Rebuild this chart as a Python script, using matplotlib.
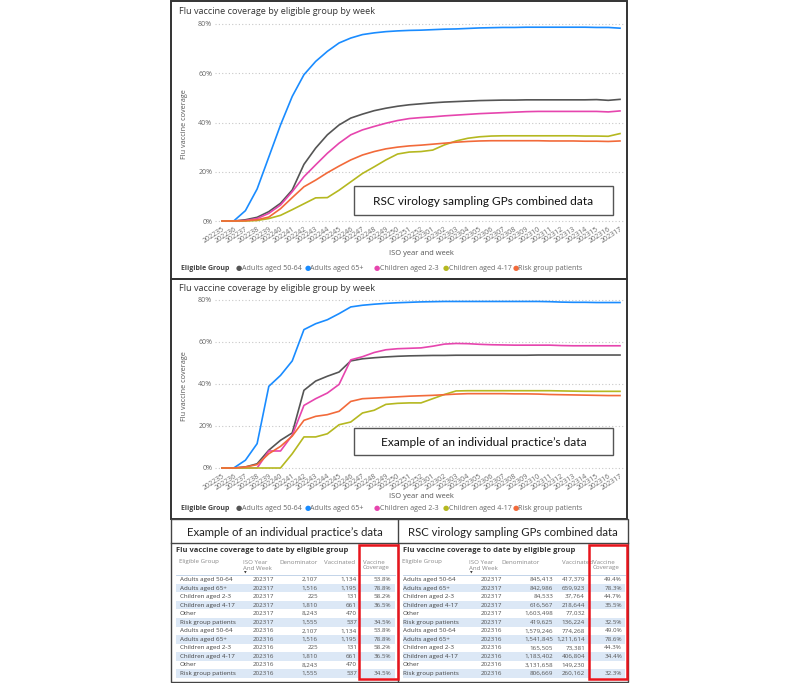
import matplotlib
matplotlib.use("Agg")
import matplotlib.pyplot as plt
from matplotlib.patches import Rectangle

plt.rcParams['font.family'] = ['Open Sans', 'DejaVu Sans']

# ISO year-week labels on the x axis
weeks = ["202235", "202236", "202237", "202238", "202239", "202240", "202241",
         "202242", "202243", "202244", "202245", "202246", "202247", "202248",
         "202249", "202250", "202251", "202252", "202301", "202302", "202303",
         "202304", "202305", "202306", "202307", "202308", "202309", "202310",
         "202311", "202312", "202313", "202314", "202315", "202316", "202317"]

groups = ["Adults aged 50-64", "Adults aged 65+", "Children aged 2-3",
          "Children aged 4-17", "Risk group patients"]
colors = ["#555555", "#1a8cff", "#e645ae", "#b5b820", "#f26a3a"]

# RSC virology sampling GPs combined data (coverage %)
comb_50_64 = [0, 0, 0.5, 1.5, 3.8, 7.2, 12.6, 23.0, 29.6, 35.0, 39.0, 41.8, 43.4, 44.8, 45.8, 46.6, 47.2, 47.6,
              48.0, 48.3, 48.5, 48.7, 48.9, 49.0, 49.1, 49.1, 49.2, 49.2, 49.2, 49.2, 49.2, 49.2, 49.3, 49.0, 49.4]
comb_65 = [0, 0, 4.2, 13.0, 26.0, 39.0, 50.6, 59.4, 64.8, 68.9, 72.3, 74.3, 75.7, 76.4, 76.9, 77.2, 77.4, 77.5,
           77.7, 77.9, 78.0, 78.2, 78.4, 78.5, 78.6, 78.6, 78.7, 78.7, 78.7, 78.7, 78.7, 78.7, 78.6, 78.6, 78.3]
comb_2_3 = [0, 0, 0.2, 1.0, 3.1, 6.5, 11.9, 18.0, 22.8, 27.5, 31.6, 35.0, 37.0, 38.4, 39.7, 40.8, 41.6, 42.0,
            42.3, 42.7, 43.0, 43.3, 43.6, 43.8, 44.0, 44.2, 44.4, 44.5, 44.5, 44.5, 44.5, 44.5, 44.5, 44.3, 44.7]
comb_4_17 = [0, 0, 0, 0.2, 1.0, 2.3, 4.6, 7.0, 9.4, 9.5, 12.5, 15.9, 19.3, 22.0, 24.8, 27.2, 28.0, 28.2,
             28.8, 30.9, 32.5, 33.6, 34.2, 34.5, 34.6, 34.6, 34.6, 34.6, 34.6, 34.6, 34.6, 34.5, 34.5, 34.4, 35.5]
comb_risk = [0, 0, 0.1, 0.5, 1.6, 5.0, 9.5, 13.9, 16.6, 19.6, 22.3, 24.8, 26.8, 28.2, 29.3, 30.0, 30.5, 30.8,
             31.2, 31.6, 32.0, 32.3, 32.5, 32.6, 32.6, 32.6, 32.6, 32.6, 32.5, 32.5, 32.5, 32.4, 32.4, 32.3, 32.5]

# Example of an individual practice's data (coverage %)
prac_50_64 = [0, 0, 0.5, 2.0, 8.5, 13.2, 16.7, 37.0, 41.4, 43.7, 45.7, 51.0, 52.0, 52.5, 52.9, 53.2, 53.4, 53.5,
              53.6, 53.6, 53.7, 53.7, 53.7, 53.7, 53.7, 53.7, 53.7, 53.8, 53.8, 53.8, 53.8, 53.8, 53.8, 53.8, 53.8]
prac_65 = [0, 0, 3.7, 11.6, 38.9, 44.1, 51.0, 65.9, 68.7, 70.6, 73.5, 76.7, 77.5, 78.0, 78.4, 78.7, 78.9, 79.1,
           79.2, 79.3, 79.3, 79.3, 79.3, 79.3, 79.3, 79.3, 79.3, 79.3, 79.2, 79.0, 78.9, 78.9, 78.8, 78.8, 78.8]
prac_2_3 = [0, 0, 0, 0, 8.1, 8.1, 15.6, 29.8, 33.0, 35.7, 39.8, 51.5, 53.0, 55.0, 56.3, 56.8, 57.0, 57.2,
            58.0, 59.0, 59.3, 59.2, 58.9, 58.7, 58.6, 58.5, 58.5, 58.5, 58.5, 58.3, 58.2, 58.2, 58.2, 58.2, 58.2]
prac_4_17 = [0, 0, 0, 0, 0, 0, 6.8, 14.8, 14.8, 16.3, 20.6, 21.9, 26.2, 27.5, 30.3, 30.8, 31.0, 31.0,
             33.0, 35.0, 36.7, 36.8, 36.8, 36.8, 36.8, 36.8, 36.8, 36.8, 36.8, 36.7, 36.6, 36.5, 36.5, 36.5, 36.5]
prac_risk = [0, 0, 0.5, 1.6, 6.8, 10.3, 15.2, 22.7, 24.6, 25.4, 27.0, 31.7, 33.0, 33.3, 33.6, 33.9, 34.2, 34.4,
             34.6, 34.9, 35.2, 35.4, 35.4, 35.4, 35.4, 35.3, 35.3, 35.2, 35.0, 34.9, 34.8, 34.7, 34.6, 34.5, 34.5]

# table data
tbl_groups = ["Adults aged 50-64", "Adults aged 65+", "Children aged 2-3", "Children aged 4-17",
              "Other", "Risk group patients"] * 2
tbl_weeks = ["202317"] * 6 + ["202316"] * 6
prac_denom = ["2,107", "1,516", "225", "1,810", "8,243", "1,555",
              "2,107", "1,516", "225", "1,810", "8,243", "1,555"]
prac_vacc = ["1,134", "1,195", "131", "661", "470", "537",
             "1,134", "1,195", "131", "661", "470", "537"]
prac_cov = ["53.8%", "78.8%", "58.2%", "36.5%", "", "34.5%",
            "53.8%", "78.8%", "58.2%", "36.5%", "", "34.5%"]
comb_denom = ["845,413", "842,986", "84,533", "616,567", "1,603,498", "419,625",
              "1,579,246", "1,541,845", "165,505", "1,183,402", "3,131,658", "806,669"]
comb_vacc = ["417,379", "659,923", "37,764", "218,644", "77,032", "136,224",
             "774,268", "1,211,614", "73,381", "406,804", "149,230", "260,162"]
comb_cov = ["49.4%", "78.3%", "44.7%", "35.5%", "", "32.5%",
            "49.0%", "78.6%", "44.3%", "34.4%", "", "32.3%"]

W, H = 800, 683
fig = plt.figure(figsize=(8, 6.83), dpi=100)
fig.patch.set_facecolor("white")


def px(x, y):
    return x / W, 1 - y / H


def ftext(x, y, s, **kw):
    fig.text(x / W, 1 - y / H, s, **kw)


def frame(x0, y0, x1, y1, lw=1.4, ec="#333333", fc="none", z=1):
    fig.add_artist(Rectangle(px(x0, y1), (x1 - x0) / W, (y1 - y0) / H, transform=fig.transFigure,
                             lw=lw, ec=ec, fc=fc, zorder=z))


def hline(x0, x1, y, **kw):
    fig.add_artist(plt.Line2D([x0 / W, x1 / W], [1 - y / H, 1 - y / H], transform=fig.transFigure, **kw))


def vline(x, y0, y1, **kw):
    fig.add_artist(plt.Line2D([x / W, x / W], [1 - y0 / H, 1 - y1 / H], transform=fig.transFigure, **kw))


def chart(series, top, y0pix, y80pix, lab_y, leg_y, note, note_box):
    left, right = 215, 624
    x_first, x_last = 222, 620
    unit = (x_last - x_first) / (len(weeks) - 1)
    ax_top, ax_bot = y80pix - 4, y0pix + 3
    ax = fig.add_axes([left / W, 1 - ax_bot / H, (right - left) / W, (ax_bot - ax_top) / H])
    ax.set_facecolor("none")
    x = list(range(len(weeks)))
    for vals, c in zip(series, colors):
        ax.plot(x, vals, color=c, lw=1.2, solid_joinstyle="round", zorder=3)
    ax.set_xlim(-(x_first - left) / unit, len(weeks) - 1 + (right - x_last) / unit)
    per = 80 / (y0pix - y80pix)
    ax.set_ylim(-(ax_bot - y0pix) * per, 80 + (y80pix - ax_top) * per)
    ax.set_yticks([0, 20, 40, 60, 80])
    ax.set_yticklabels(["0%", "20%", "40%", "60%", "80%"])
    ax.grid(axis="y", color="#c8c8c8", ls=(0, (1, 2)), lw=0.8)
    ax.set_xticks(x)
    ax.set_xticklabels(weeks, rotation=33, ha="right", rotation_mode="anchor", fontsize=5.4, color="#888888")
    ax.tick_params(length=0, pad=2, labelsize=5, labelcolor="#666666")
    ax.tick_params(axis="x", pad=1)
    for s in ax.spines.values():
        s.set_visible(False)
    ftext(179, top + 11, "Flu vaccine coverage by eligible group by week", fontsize=6.6,
          color="#333333", va="center")
    ftext(185, (y0pix + y80pix) / 2 + 2, "Flu vaccine coverage", rotation=90, fontsize=5.2,
          color="#555555", ha="center", va="center")
    ftext(421, lab_y, "ISO year and week", fontsize=5.4, color="#555555", ha="center", va="center")
    ftext(181, leg_y, "Eligible Group", fontsize=5, fontweight="bold", color="#444444", va="center")
    leg_x = [236, 305, 374, 443, 513]
    for lx, g, c in zip(leg_x, groups, colors):
        ftext(lx, leg_y, "\u25CF", fontsize=5.2, color=c, va="center", family="DejaVu Sans")
        ftext(lx + 5.5, leg_y, g, fontsize=5.1, color="#666666", va="center")
    bx0, by0, bx1, by1 = note_box
    frame(bx0, by0, bx1, by1, lw=1.0, ec="#555555", fc="white", z=5)
    ftext((bx0 + bx1) / 2, (by0 + by1) / 2 + 1, note, fontsize=8.6, family="Lato",
          ha="center", va="center", color="#111111", zorder=6)
    return ax


chart([comb_50_64, comb_65, comb_2_3, comb_4_17, comb_risk], 0, 221, 24, 254, 268,
      "RSC virology sampling GPs combined data", (354, 186, 613, 215))
chart([prac_50_64, prac_65, prac_2_3, prac_4_17, prac_risk], 278, 468, 300, 497, 508,
      "Example of an individual practice\u2019s data", (354, 428, 613, 455))

# panel frames
frame(171, 1, 627, 279, lw=1.4)
frame(171, 279, 627, 519, lw=1.4)
frame(171, 519, 628, 682, lw=1.0, ec="#444444")
vline(398, 519, 682, lw=1.0, color="#444444")
hline(171, 628, 543, lw=1.0, color="#444444")

ftext(285, 532, "Example of an individual practice\u2019s data", fontsize=8.2, family="Lato",
      ha="center", va="center", color="#222222")
ftext(513, 532, "RSC virology sampling GPs combined data", fontsize=8.2, family="Lato",
      ha="center", va="center", color="#222222")


def table(x0, x1, col_x, denom, vacc, cov, red):
    ftext(x0 + 5, 551, "Flu vaccine coverage to date by eligible group", fontsize=5.4,
          fontweight="bold", color="#333333", va="center")
    hdr_c = "#888888"
    ftext(col_x[0], 562, "Eligible Group", fontsize=4.4, color=hdr_c, va="center")
    ftext(col_x[1], 562, "ISO Year", fontsize=4.4, color=hdr_c, va="center")
    ftext(col_x[1], 568, "And Week", fontsize=4.4, color=hdr_c, va="center")
    ftext(col_x[1] + 1, 573, "\u25BC", fontsize=2.5, color="#333333", va="center", family="DejaVu Sans")
    ftext(col_x[2], 562, "Denominator", fontsize=4.4, color=hdr_c, va="center")
    ftext(col_x[3], 562, "Vaccinated", fontsize=4.4, color=hdr_c, va="center")
    ftext(col_x[4], 562, "Vaccine", fontsize=4.4, color=hdr_c, va="center")
    ftext(col_x[4], 568, "Coverage", fontsize=4.4, color=hdr_c, va="center")
    hline(x0 + 5, x1 - 3, 575, lw=0.6, color="#b9cde5")
    row_h = 8.55
    for i in range(len(tbl_groups)):
        yc = 579.5 + i * row_h
        if i % 2 == 1:
            frame(x0 + 5, yc - row_h / 2, x1 - 3, yc + row_h / 2, lw=0, ec="none", fc="#dce8f6", z=0)
        ftext(col_x[0] + 1, yc, tbl_groups[i], fontsize=4.5, color="#444444", va="center")
        ftext(col_x[5], yc, tbl_weeks[i], fontsize=4.5, color="#555555", va="center", ha="right")
        ftext(col_x[6], yc, denom[i], fontsize=4.5, color="#555555", va="center", ha="right")
        ftext(col_x[7], yc, vacc[i], fontsize=4.5, color="#555555", va="center", ha="right")
        ftext(col_x[8], yc, cov[i], fontsize=4.5, color="#555555", va="center", ha="right")
    frame(red[0], 545, red[1], 679, lw=1.8, ec="#e8141c", z=4)


table(171, 398, [179, 243, 279, 324, 363, 274, 318, 357, 391], prac_denom, prac_vacc, prac_cov, (359, 398))
table(398, 628, [402, 469, 501, 562, 593, 502, 553, 585, 622], comb_denom, comb_vacc, comb_cov, (589, 627))

fig.savefig("out.png", dpi=100, facecolor="white")
